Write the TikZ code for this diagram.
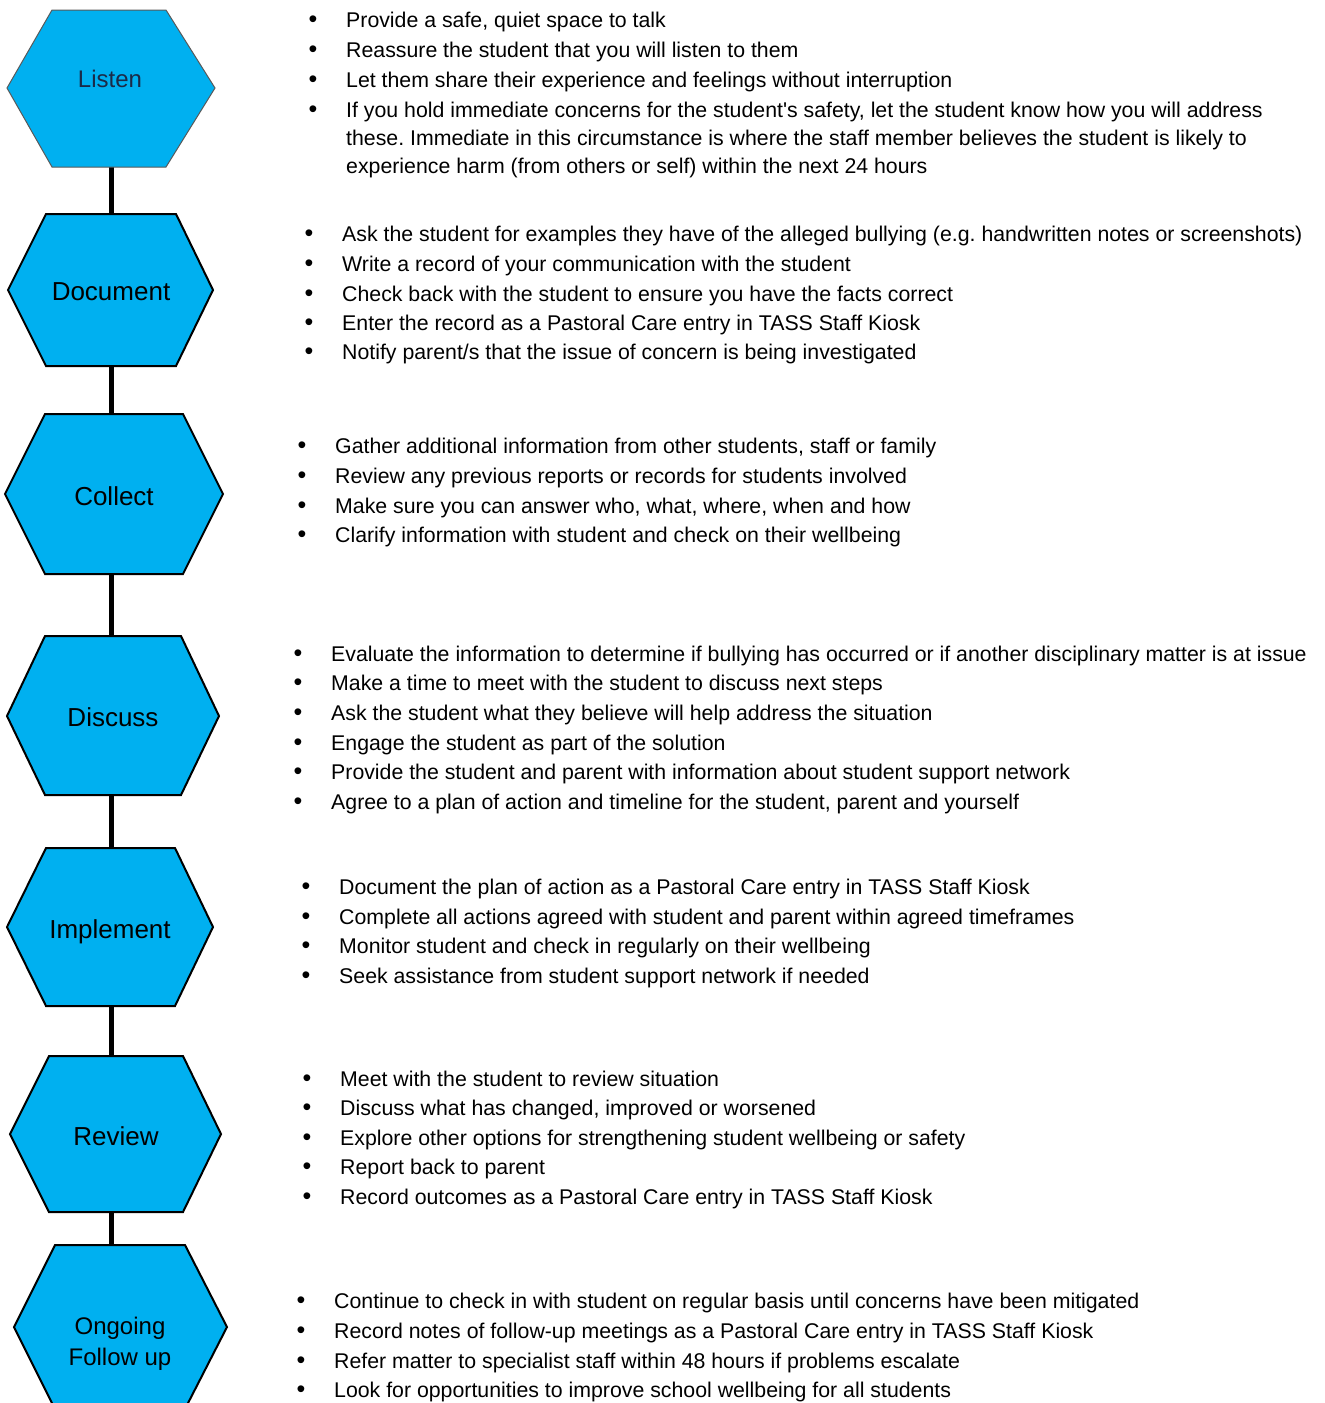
\documentclass[tikz,border=0pt]{standalone}
\usepackage{fontspec}
\setmainfont{Liberation Sans}
\frenchspacing
\begin{document}
\begin{tikzpicture}[x=1pt,y=-1pt,
  hexa/.style={fill=hexblue,draw=black,line width=2pt,line join=miter},
  link/.style={draw=black,line width=5pt},
  lab/.style={font=\fontsize{26}{31}\selectfont,align=center,inner sep=0pt},
  itm/.style={anchor=base west,inner sep=0pt,font=\fontsize{21.3}{28}\selectfont\frenchspacing},
  bul/.style={anchor=base,inner sep=0pt,font=\fontsize{25}{28}\selectfont}]
\definecolor{hexblue}{HTML}{00B0F0}
\definecolor{navy}{HTML}{1B2A47}
\useasboundingbox (0,0) rectangle (1325,1403);
\fill[white] (0,0) rectangle (1325,1403);
% connectors
\coordinate (c1a) at (111,167); \coordinate (c1b) at (111,214);
\coordinate (c2a) at (111,366); \coordinate (c2b) at (111,414);
\coordinate (c3a) at (111,574); \coordinate (c3b) at (111,636);
\coordinate (c4a) at (111,795); \coordinate (c4b) at (111,848);
\coordinate (c5a) at (111,1006); \coordinate (c5b) at (111,1056);
\coordinate (c6a) at (111,1213); \coordinate (c6b) at (111,1245);
\draw[link] (c1a) -- (c1b);
\draw[link] (c2a) -- (c2b);
\draw[link] (c3a) -- (c3b);
\draw[link] (c4a) -- (c4b);
\draw[link] (c5a) -- (c5b);
\draw[link] (c6a) -- (c6b);
% hexagons
\filldraw[hexa,draw=black!65,line width=1pt] (52,10) -- (166,10) -- (215,88) -- (166,167) -- (52,167) -- (7,88) -- cycle;
\node[lab,font=\fontsize{24}{29}\selectfont,text=navy] (listen) at (110,79) {Listen};
\filldraw[hexa] (46,214) -- (176,214) -- (213,290) -- (176,366) -- (46,366) -- (8,290) -- cycle;
\node[lab] (document) at (111,292) {Document};
\filldraw[hexa] (45,414) -- (183,414) -- (223,494) -- (183,574) -- (45,574) -- (5,494) -- cycle;
\node[lab] (collect) at (114,496) {Collect};
\filldraw[hexa] (45,636) -- (181,636) -- (219,716) -- (181,795) -- (45,795) -- (7,716) -- cycle;
\node[lab] (discuss) at (113,717) {Discuss};
\filldraw[hexa] (46,848) -- (175,848) -- (213,927) -- (175,1006) -- (46,1006) -- (7,927) -- cycle;
\node[lab] (implement) at (110,932) {Implement};
\filldraw[hexa] (49,1056) -- (183,1056) -- (221,1134) -- (183,1212) -- (49,1212) -- (10,1134) -- cycle;
\node[lab] (review) at (116,1136) {Review};
\filldraw[hexa] (55,1245) -- (185,1245) -- (227,1327) -- (185,1409) -- (55,1409) -- (14,1327) -- cycle;
\node[lab,font=\fontsize{24}{31}\selectfont] (ongoing) at (120,1344) {Ongoing\\Follow up};
% Listen
\node[bul] (b11) at (313,27) {•}; \node[itm] (t11) at (346,27) {Provide a safe, quiet space to talk};
\node[bul] (b12) at (313,57) {•}; \node[itm] (t12) at (346,57) {Reassure the student that you will listen to them};
\node[bul] (b13) at (313,87) {•}; \node[itm] (t13) at (346,87) {Let them share their experience and feelings without interruption};
\node[bul] (b14) at (313,117) {•}; \node[itm] (t14) at (346,117) {If you hold immediate concerns for the student\textquotesingle s safety, let the student know how you will address};
\node[itm] (t15) at (346,145) {these. Immediate in this circumstance is where the staff member believes the student is likely to};
\node[itm] (t16) at (346,173) {experience harm (from others or self) within the next 24 hours};
% Document
\node[bul] (b21) at (309,241) {•}; \node[itm] (t21) at (342,241) {Ask the student for examples they have of the alleged bullying (e.g. handwritten notes or screenshots)};
\node[bul] (b22) at (309,271) {•}; \node[itm] (t22) at (342,271) {Write a record of your communication with the student};
\node[bul] (b23) at (309,301) {•}; \node[itm] (t23) at (342,301) {Check back with the student to ensure you have the facts correct};
\node[bul] (b24) at (309,330) {•}; \node[itm] (t24) at (342,330) {Enter the record as a Pastoral Care entry in TASS Staff Kiosk};
\node[bul] (b25) at (309,359) {•}; \node[itm] (t25) at (342,359) {Notify parent/s that the issue of concern is being investigated};
% Collect
\node[bul] (b31) at (302,453) {•}; \node[itm] (t31) at (335,453) {Gather additional information from other students, staff or family};
\node[bul] (b32) at (302,483) {•}; \node[itm] (t32) at (335,483) {Review any previous reports or records for students involved};
\node[bul] (b33) at (302,513) {•}; \node[itm] (t33) at (335,513) {Make sure you can answer who, what, where, when and how};
\node[bul] (b34) at (302,542) {•}; \node[itm] (t34) at (335,542) {Clarify information with student and check on their wellbeing};
% Discuss
\node[bul] (b41) at (298,661) {•}; \node[itm] (t41) at (331,661) {Evaluate the information to determine if bullying has occurred or if another disciplinary matter is at issue};
\node[bul] (b42) at (298,690) {•}; \node[itm] (t42) at (331,690) {Make a time to meet with the student to discuss next steps};
\node[bul] (b43) at (298,720) {•}; \node[itm] (t43) at (331,720) {Ask the student what they believe will help address the situation};
\node[bul] (b44) at (298,750) {•}; \node[itm] (t44) at (331,750) {Engage the student as part of the solution};
\node[bul] (b45) at (298,779) {•}; \node[itm] (t45) at (331,779) {Provide the student and parent with information about student support network};
\node[bul] (b46) at (298,809) {•}; \node[itm] (t46) at (331,809) {Agree to a plan of action and timeline for the student, parent and yourself};
% Implement
\node[bul] (b51) at (306,894) {•}; \node[itm] (t51) at (339,894) {Document the plan of action as a Pastoral Care entry in TASS Staff Kiosk};
\node[bul] (b52) at (306,924) {•}; \node[itm] (t52) at (339,924) {Complete all actions agreed with student and parent within agreed timeframes};
\node[bul] (b53) at (306,953) {•}; \node[itm] (t53) at (339,953) {Monitor student and check in regularly on their wellbeing};
\node[bul] (b54) at (306,983) {•}; \node[itm] (t54) at (339,983) {Seek assistance from student support network if needed};
% Review
\node[bul] (b61) at (307,1086) {•}; \node[itm] (t61) at (340,1086) {Meet with the student to review situation};
\node[bul] (b62) at (307,1115) {•}; \node[itm] (t62) at (340,1115) {Discuss what has changed, improved or worsened};
\node[bul] (b63) at (307,1145) {•}; \node[itm] (t63) at (340,1145) {Explore other options for strengthening student wellbeing or safety};
\node[bul] (b64) at (307,1174) {•}; \node[itm] (t64) at (340,1174) {Report back to parent};
\node[bul] (b65) at (307,1204) {•}; \node[itm] (t65) at (340,1204) {Record outcomes as a Pastoral Care entry in TASS Staff Kiosk};
% Ongoing
\node[bul] (b71) at (301,1308) {•}; \node[itm] (t71) at (334,1308) {Continue to check in with student on regular basis until concerns have been mitigated};
\node[bul] (b72) at (301,1338) {•}; \node[itm] (t72) at (334,1338) {Record notes of follow-up meetings as a Pastoral Care entry in TASS Staff Kiosk};
\node[bul] (b73) at (301,1368) {•}; \node[itm] (t73) at (334,1368) {Refer matter to specialist staff within 48 hours if problems escalate};
\node[bul] (b74) at (301,1397) {•}; \node[itm] (t74) at (334,1397) {Look for opportunities to improve school wellbeing for all students};
\end{tikzpicture}
\end{document}
